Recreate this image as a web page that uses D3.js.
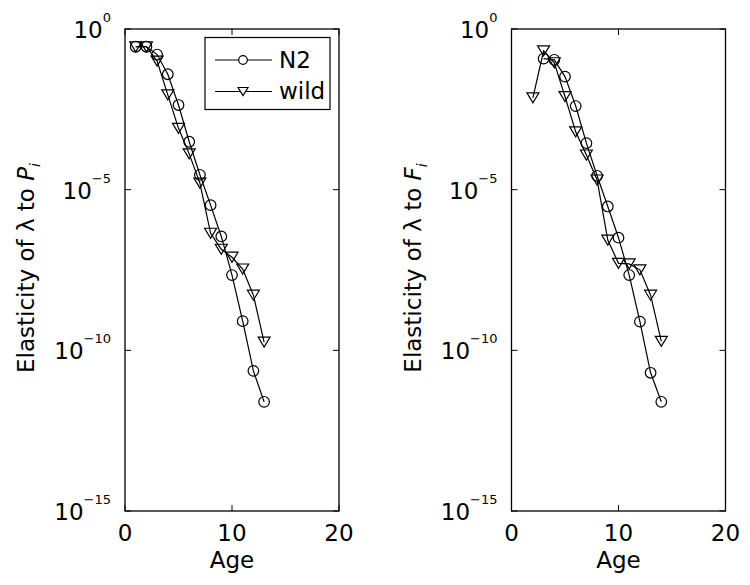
<!DOCTYPE html>
<html>
<head>
<meta charset="utf-8">
<script src="https://cdn.jsdelivr.net/npm/d3@7"></script>
<style>
  body { margin: 0; background: #fff; }
  text { font-family: "DejaVu Sans", "Liberation Sans", Arial, sans-serif; fill: #000; }
</style>
</head>
<body>
<script>
// left panel: elasticity to P_i
var agesP = [1, 2, 3, 4, 5, 6, 7, 8, 9, 10, 11, 12, 13];
var n2P = [2.8e-1, 2.8e-1, 1.6e-1, 3.9e-2, 4.3e-3, 3.1e-4, 2.9e-5, 3.3e-6, 3.5e-7, 2.2e-8, 8.1e-10, 2.3e-11, 2.5e-12];
var wildP = [2.8e-1, 2.8e-1, 1.0e-1, 8.9e-3, 8.1e-4, 1.3e-4, 1.6e-5, 4.4e-7, 1.4e-7, 7.9e-8, 3.4e-8, 5.2e-9, 1.8e-10];

// right panel: elasticity to F_i
var agesFn2 = [3, 4, 5, 6, 7, 8, 9, 10, 11, 12, 13, 14];
var n2F = [1.2e-1, 1.1e-1, 3.3e-2, 4.0e-3, 2.8e-4, 2.7e-5, 3.0e-6, 3.2e-7, 2.2e-8, 7.8e-10, 2.0e-11, 2.5e-12];
var agesFwild = [2, 3, 4, 5, 6, 7, 8, 9, 10, 11, 12, 13, 14];
var wildF = [7.2e-3, 2.1e-1, 8.9e-2, 7.9e-3, 6.3e-4, 1.2e-4, 2.0e-5, 2.7e-7, 5.1e-8, 4.9e-8, 3.2e-8, 5.2e-9, 1.9e-10];

var xTicks = [0, 10, 20];
var yExponents = [0, -5, -10, -15];
var legendLabels = ["N2", "wild"];

var width = 750, height = 585;
var plotTop = 29, plotBottom = 511, plotW = 214;

var svg = d3.select("body").append("svg").attr("width", width).attr("height", height);

var triPath = "M-6,-5L6,-5L0,5Z";

function drawPanel(left, sub, series, showLegend) {
    var x = d3.scaleLinear().domain([0, 20]).range([left, left + plotW]);
    var y = d3.scaleLog().domain([1e-15, 1]).range([plotBottom, plotTop]);
    var g = svg.append("g");

    // box
    g.append("rect").attr("x", left).attr("y", plotTop).attr("width", plotW).attr("height", plotBottom - plotTop)
        .attr("fill", "none").attr("stroke", "#000").attr("stroke-width", 1.3);

    // ticks (inside, on all four sides)
    xTicks.forEach(function (t) {
        g.append("line").attr("x1", x(t)).attr("x2", x(t)).attr("y1", plotBottom).attr("y2", plotBottom - 6).attr("stroke", "#000");
        g.append("line").attr("x1", x(t)).attr("x2", x(t)).attr("y1", plotTop).attr("y2", plotTop + 6).attr("stroke", "#000");
        g.append("text").attr("x", x(t)).attr("y", 541).attr("text-anchor", "middle")
            .style("font-size", "23px").text(t);
    });
    yExponents.forEach(function (e) {
        var yy = y(Math.pow(10, e));
        g.append("line").attr("x1", left).attr("x2", left + 6).attr("y1", yy).attr("y2", yy).attr("stroke", "#000");
        g.append("line").attr("x1", left + plotW).attr("x2", left + plotW - 6).attr("y1", yy).attr("y2", yy).attr("stroke", "#000");
        var t = g.append("text").attr("x", left - 14).attr("y", yy + 9).attr("text-anchor", "end")
            .style("font-size", "23px");
        t.append("tspan").text("10");
        t.append("tspan").attr("dy", -16).style("font-size", "13px").text(e === 0 ? "0" : "\u2212" + Math.abs(e));
    });

    // x label
    g.append("text").attr("x", left + plotW / 2).attr("y", 568).attr("text-anchor", "middle")
        .style("font-size", "23px").text("Age");

    // y label
    var yl = g.append("text").attr("transform", "translate(" + (left - 91) + "," + 268 + ") rotate(-90)")
        .attr("text-anchor", "middle").style("font-size", "23px");
    yl.append("tspan").text("Elasticity of \u03bb to ");
    yl.append("tspan").style("font-style", "italic").text(sub);
    yl.append("tspan").attr("dy", 6).style("font-size", "14px").style("font-style", "italic").text("i");

    var line = d3.line().x(function (d) { return x(d[0]); }).y(function (d) { return y(d[1]); });

    series.forEach(function (s) {
        var pts = s.ages.map(function (a, i) { return [a, s.vals[i]]; });
        g.append("path").datum(pts).attr("d", line).attr("fill", "none").attr("stroke", "#000").attr("stroke-width", 1.2);
        var m = g.append("g").selectAll("g").data(pts).enter().append("g")
            .attr("transform", function (d) { return "translate(" + x(d[0]) + "," + y(d[1]) + ")"; });
        if (s.marker === "circle") {
            m.append("circle").attr("r", 5.3).attr("fill", "none").attr("stroke", "#000").attr("stroke-width", 1.2);
        } else {
            m.append("path").attr("d", triPath).attr("fill", "none").attr("stroke", "#000").attr("stroke-width", 1.2);
        }
    });

    if (showLegend) {
        var lg = g.append("g");
        lg.append("rect").attr("x", 205).attr("y", 37.5).attr("width", 125).attr("height", 72)
            .attr("fill", "#fff").attr("stroke", "#000").attr("stroke-width", 1.2);
        legendLabels.forEach(function (lab, i) {
            var yy = 60 + i * 31.5;
            lg.append("line").attr("x1", 215).attr("x2", 272).attr("y1", yy).attr("y2", yy).attr("stroke", "#000").attr("stroke-width", 1.2);
            if (i === 0) {
                lg.append("circle").attr("cx", 243).attr("cy", yy).attr("r", 4.3).attr("fill", "#fff").attr("stroke", "#000").attr("stroke-width", 1.2);
            } else {
                lg.append("path").attr("d", "M-5,-4L5,-4L0,4Z").attr("transform", "translate(243," + yy + ")")
                    .attr("fill", "#fff").attr("stroke", "#000").attr("stroke-width", 1.2);
            }
            lg.append("text").attr("x", 279).attr("y", yy + 7.5).style("font-size", "23px").text(lab);
        });
    }
}

drawPanel(125, "P", [
    { ages: agesP, vals: n2P, marker: "circle" },
    { ages: agesP, vals: wildP, marker: "tri" }
], true);

drawPanel(511.5, "F", [
    { ages: agesFn2, vals: n2F, marker: "circle" },
    { ages: agesFwild, vals: wildF, marker: "tri" }
], false);
</script>
</body>
</html>
